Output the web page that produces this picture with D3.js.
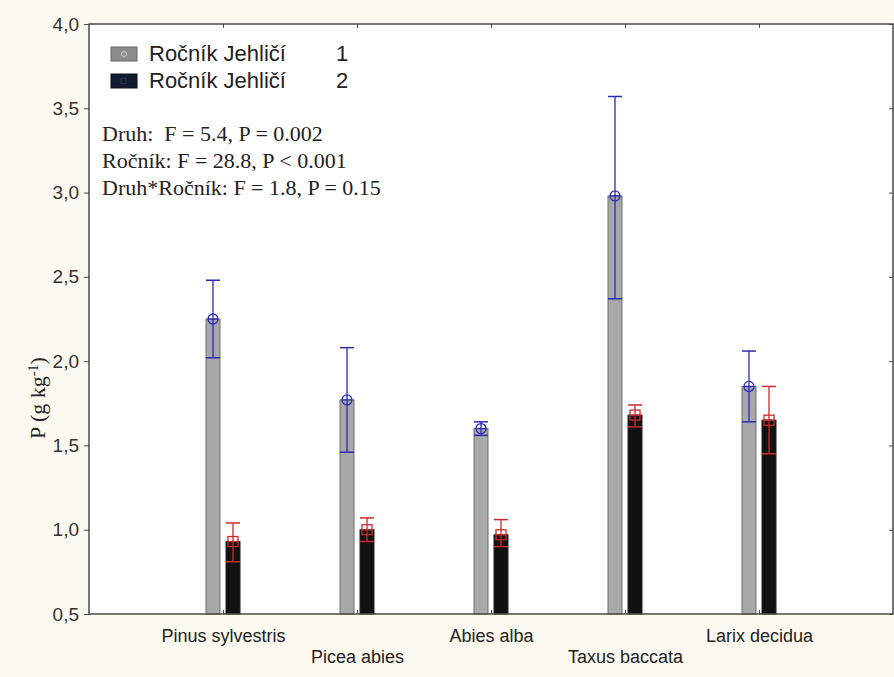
<!DOCTYPE html>
<html>
<head>
<meta charset="utf-8">
<script src="https://cdn.jsdelivr.net/npm/d3@7"></script>
<style>
  body { margin: 0; background: #fcf9f0; }
  svg { display: block; }
</style>
</head>
<body>
<div id="chart"></div>
<script>
// druhy (kategorie na ose x)
const species = ["Pinus sylvestris", "Picea abies", "Abies alba", "Taxus baccata", "Larix decidua"];

// rocnik jehlici 1 - prumer, horni a dolni mez
const mean1 = [2.25, 1.77, 1.60, 2.98, 1.85];
const upper1 = [2.48, 2.08, 1.64, 3.57, 2.06];
const lower1 = [2.02, 1.46, 1.56, 2.37, 1.64];

// rocnik jehlici 2
const mean2 = [0.93, 1.00, 0.97, 1.68, 1.65];
const upper2 = [1.04, 1.07, 1.06, 1.74, 1.85];
const lower2 = [0.81, 0.93, 0.90, 1.61, 1.45];

const yTicks = [0.5, 1.0, 1.5, 2.0, 2.5, 3.0, 3.5, 4.0];
const legendItems = ["Ročník Jehličí", "Ročník Jehličí"];
const legendNums = ["1", "2"];
const stats = [
  "Druh:  F = 5.4, P = 0.002",
  "Ročník: F = 28.8, P < 0.001",
  "Druh*Ročník: F = 1.8, P = 0.15"
];

const width = 894,
      height = 677,
      margin = ({ top: 24, right: 1, bottom: 63, left: 89 });

let svg = d3.select("#chart")
  .append("svg")
  .attr("width", width)
  .attr("height", height)
  .attr("viewBox", [0, 0, width, height]);

svg.append("rect")
  .attr("width", width).attr("height", height)
  .attr("fill", "#fcf9f0");

let x = d3.scalePoint()
  .domain(species)
  .range([margin.left, width - margin.right])
  .padding(1);

let y = d3.scaleLinear()
  .domain([0.5, 4.0])
  .range([height - margin.bottom, margin.top]);

// plot area
svg.append("rect")
  .attr("x", margin.left)
  .attr("y", margin.top)
  .attr("width", width - margin.right - margin.left)
  .attr("height", height - margin.bottom - margin.top)
  .attr("fill", "#fff");

const barW = 14, gap = 3;

// build rows from the arrays
const rows = species.map((s, i) => ({
  s, m1: mean1[i], u1: upper1[i], l1: lower1[i],
  m2: mean2[i], u2: upper2[i], l2: lower2[i]
}));

let g = svg.selectAll(".grp")
  .data(rows)
  .join("g")
  .attr("class", "grp");

// gray bars
g.append("rect")
  .attr("x", d => x(d.s) - gap - barW)
  .attr("y", d => y(d.m1))
  .attr("width", barW)
  .attr("height", d => y(0.5) - y(d.m1))
  .attr("fill", "#a8a8a8")
  .attr("stroke", "#6e6e6e")
  .attr("stroke-width", 1);

// black bars
g.append("rect")
  .attr("x", d => x(d.s) + gap)
  .attr("y", d => y(d.m2))
  .attr("width", barW)
  .attr("height", d => y(0.5) - y(d.m2))
  .attr("fill", "#111")
  .attr("stroke", "#222")
  .attr("stroke-width", 1);

// error bars
const blue = "#2b2bb5", red = "#cc2b2b";
function errBar(sel, cx, m, u, l, color, marker) {
  sel.append("line")
    .attr("x1", cx).attr("x2", cx)
    .attr("y1", d => y(u(d))).attr("y2", d => y(l(d)))
    .attr("stroke", color).attr("stroke-width", 1.3);
  [u, l].forEach(f => {
    sel.append("line")
      .attr("x1", d => cx(d) - 7).attr("x2", d => cx(d) + 7)
      .attr("y1", d => y(f(d))).attr("y2", d => y(f(d)))
      .attr("stroke", color).attr("stroke-width", 1.5);
  });
  if (marker == "circle") {
    sel.append("circle")
      .attr("cx", cx).attr("cy", d => y(m(d)))
      .attr("r", 5)
      .attr("fill", "none").attr("stroke", color).attr("stroke-width", 1.3);
  } else {
    sel.append("rect")
      .attr("x", d => cx(d) - 5).attr("y", d => y(m(d)) - 5)
      .attr("width", 10).attr("height", 10)
      .attr("fill", "none").attr("stroke", color).attr("stroke-width", 1.3);
  }
  sel.append("line")
    .attr("x1", d => cx(d) - 5).attr("x2", d => cx(d) + 5)
    .attr("y1", d => y(m(d))).attr("y2", d => y(m(d)))
    .attr("stroke", color).attr("stroke-width", 1.3);
}

errBar(g, d => x(d.s) - gap - barW / 2, d => d.m1, d => d.u1, d => d.l1, blue, "circle");
errBar(g, d => x(d.s) + gap + barW / 2, d => d.m2, d => d.u2, d => d.l2, red, "square");

// frame
svg.append("rect")
  .attr("x", margin.left)
  .attr("y", margin.top)
  .attr("width", width - margin.right - margin.left)
  .attr("height", height - margin.bottom - margin.top)
  .attr("fill", "none")
  .attr("stroke", "#4a4a4a")
  .attr("stroke-width", 1.5);

// left axis
svg.append("g")
  .attr("transform", `translate(${margin.left},0)`)
  .call(d3.axisLeft(y).tickValues(yTicks).tickSize(5).tickPadding(5)
    .tickFormat(d => d3.format(".1f")(d).replace(".", ",")))
  .call(a => a.select(".domain").remove())
  .call(a => a.selectAll("line").attr("stroke", "#4a4a4a"))
  .call(a => a.selectAll("text")
    .style("font-family", "Liberation Sans, Arial, sans-serif")
    .style("font-size", "19px").attr("fill", "#333"));

// right axis, ticks inside
svg.append("g")
  .attr("transform", `translate(${width - margin.right},0)`)
  .call(d3.axisLeft(y).tickValues(yTicks).tickSize(-0).tickFormat(""))
  .call(a => a.select(".domain").remove())
  .call(a => a.selectAll("line").attr("x2", -4).attr("stroke", "#4a4a4a"));

// top axis, ticks inside
svg.append("g")
  .attr("transform", `translate(0,${margin.top})`)
  .call(d3.axisTop(x).tickSize(-4).tickFormat(""))
  .call(a => a.select(".domain").remove())
  .call(a => a.selectAll("line").attr("stroke", "#4a4a4a"));

// bottom axis, staggered labels
svg.append("g")
  .attr("transform", `translate(0,${height - margin.bottom})`)
  .call(d3.axisBottom(x).tickSize(-4).tickPadding(0))
  .call(a => a.select(".domain").remove())
  .call(a => a.selectAll("line").attr("stroke", "#4a4a4a"))
  .call(a => a.selectAll("text")
    .attr("y", (d, i) => i % 2 == 0 ? 15 : 36)
    .style("font-family", "Liberation Sans, Arial, sans-serif")
    .style("font-size", "18px").attr("fill", "#222"));

// y label
let yl = svg.append("text")
  .attr("transform", `translate(45,398) rotate(-90)`)
  .attr("text-anchor", "middle")
  .style("font-family", "Liberation Serif, Times New Roman, serif")
  .style("font-size", "22px")
  .attr("fill", "#222");
yl.append("tspan").text("P (g kg");
yl.append("tspan").attr("baseline-shift", "super").style("font-size", "14px").text("-1");
yl.append("tspan").text(")");

// legend
let leg = svg.selectAll(".leg")
  .data(legendItems)
  .join("g")
  .attr("class", "leg")
  .attr("transform", (d, i) => `translate(111,${47 + i * 27})`);

leg.append("rect")
  .attr("width", 26).attr("height", 14)
  .attr("fill", (d, i) => i == 0 ? "#8c8c8c" : "#111a2e")
  .attr("stroke", (d, i) => i == 0 ? "#666" : "#0a0f1c");

leg.filter((d, i) => i == 0).append("circle")
  .attr("cx", 13).attr("cy", 7).attr("r", 2.5)
  .attr("fill", "none").attr("stroke", "#ddd").attr("stroke-width", 0.8);

leg.filter((d, i) => i == 1).append("rect")
  .attr("x", 10).attr("y", 4.5).attr("width", 5).attr("height", 5)
  .attr("fill", "none").attr("stroke", "#2a3a6a").attr("stroke-width", 0.8);

leg.append("text")
  .attr("x", 38).attr("y", 14)
  .text(d => d)
  .style("font-family", "Liberation Sans, Arial, sans-serif")
  .style("font-size", "22px").attr("fill", "#222");

leg.append("text")
  .attr("x", 225).attr("y", 14)
  .text((d, i) => legendNums[i])
  .style("font-family", "Liberation Sans, Arial, sans-serif")
  .style("font-size", "22px").attr("fill", "#222");

// anova text
svg.selectAll(".stat")
  .data(stats)
  .join("text")
  .attr("class", "stat")
  .attr("x", 102)
  .attr("y", (d, i) => 141 + i * 27)
  .text(d => d)
  .style("white-space", "pre")
  .style("font-family", "Liberation Serif, Times New Roman, serif")
  .style("font-size", "22px")
  .attr("fill", "#222");
</script>
</body>
</html>
